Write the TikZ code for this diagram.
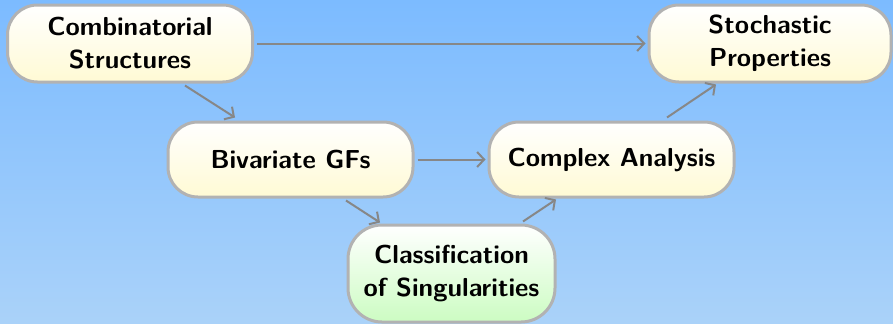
\documentclass[tikz,border=0pt]{standalone}
\usetikzlibrary{arrows.meta,calc,shadings}
\definecolor{bgtop}{RGB}{124,187,255}
\definecolor{bgbot}{RGB}{170,210,249}
\definecolor{boxyel}{RGB}{255,250,212}
\definecolor{boxgrn}{RGB}{204,252,194}
\definecolor{edge}{RGB}{178,178,178}
\definecolor{arrowgray}{RGB}{135,135,135}
\tikzset{
  box/.style={draw=edge, line width=1.5pt, rounded corners=15pt,
    top color=white, bottom color=boxyel, align=center,
    font=\sffamily\bfseries\fontsize{13}{16.5}\selectfont,
    inner sep=0pt},
  greenbox/.style={box, bottom color=boxgrn, rounded corners=17pt},
  arr/.style={draw=arrowgray, line width=1pt,
    -{Straight Barb[length=3.5pt,width=7.5pt]}}
}
\begin{document}
\begin{tikzpicture}[x=0.5pt,y=-0.5pt]
  % sky-blue background
  \shade[top color=bgtop, bottom color=bgbot] (0,0) rectangle (893,323);
  \useasboundingbox (0,0) rectangle (893,323);

  \node[box, minimum width=122.5pt, minimum height=38.5pt] (comb) at (130,43.5)
    {Combinatorial\\Structures};
  \node[box, minimum width=121pt, minimum height=38.5pt] (stoch) at (770,43.5)
    {Stochastic\\Properties};
  \node[box, minimum width=122.5pt, minimum height=37.5pt] (biv) at (290.5,159.5)
    {Bivariate GFs};
  \node[box, minimum width=122.5pt, minimum height=37.5pt] (cplx) at (611.5,159.5)
    {Complex Analysis};
  \node[greenbox, minimum width=103.5pt, minimum height=48.5pt] (clas) at (451.5,273.5)
    {Classification\\of Singularities};

  \draw[arr] ($(comb.east)+(3,0)$) -- ($(stoch.west)+(-2,0)$);
  \draw[arr] ($(comb.south)+(55,2)$) -- ($(biv.north)+(-55.5,-3)$);
  \draw[arr] ($(biv.east)+(3,0)$) -- ($(cplx.west)+(-2,0)$);
  \draw[arr] ($(biv.south)+(55.5,2)$) -- ($(clas.north)+(-71.5,-1)$);
  \draw[arr] ($(clas.north)+(71.5,-2)$) -- ($(cplx.south)+(-55.5,1)$);
  \draw[arr] ($(cplx.north)+(55.5,-3)$) -- ($(stoch.south)+(-54,1)$);
\end{tikzpicture}
\end{document}
